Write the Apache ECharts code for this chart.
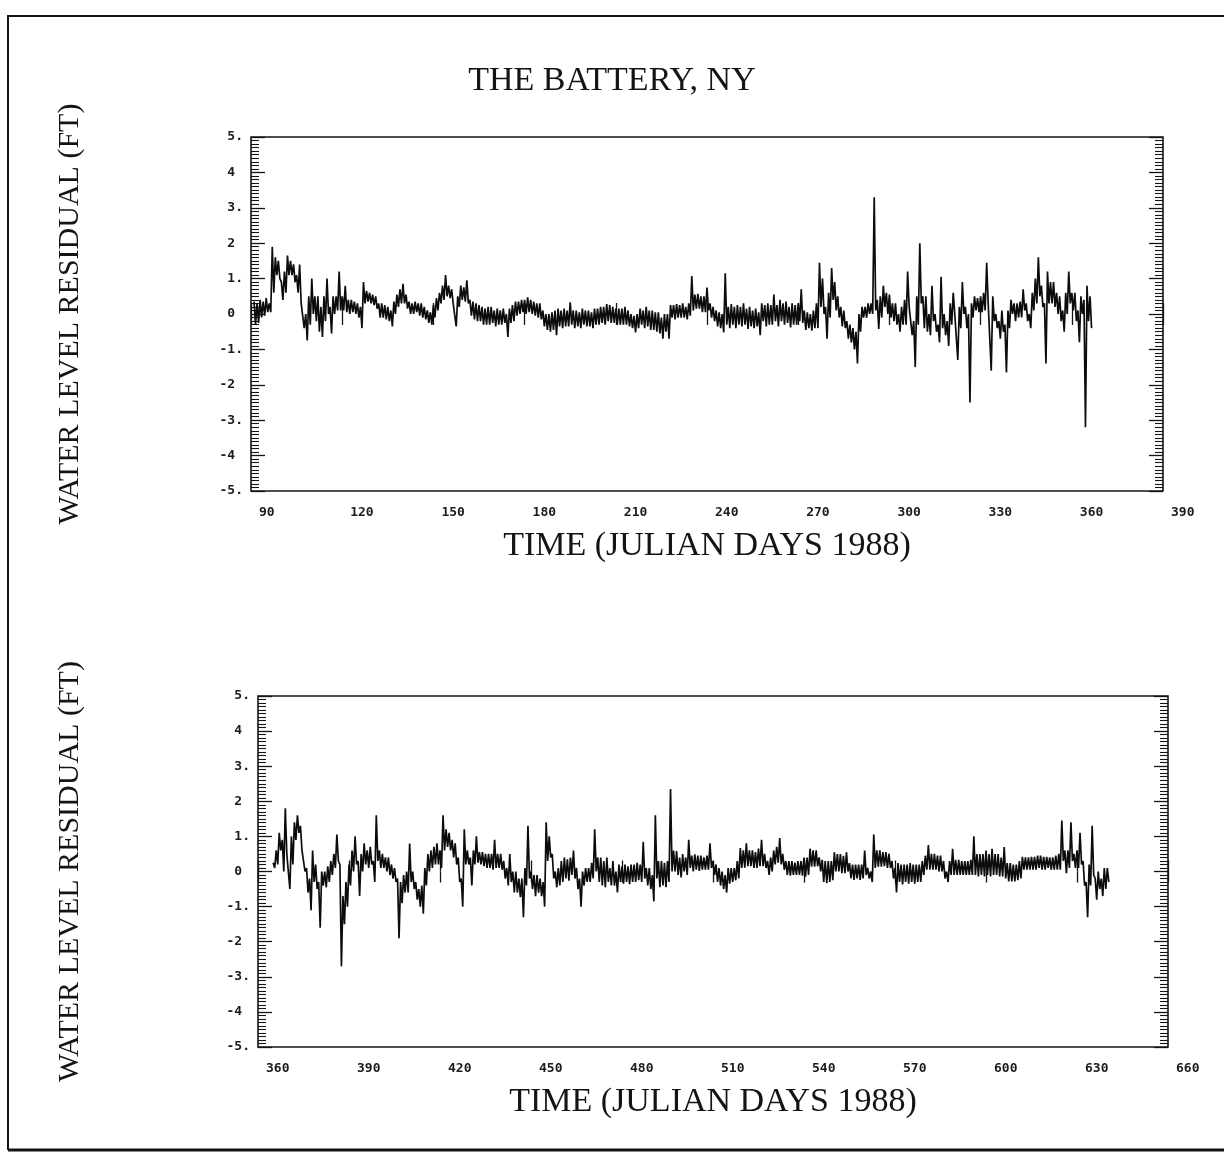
<!DOCTYPE html>
<html>
<head>
<meta charset="utf-8">
<script src="https://cdn.jsdelivr.net/npm/echarts@6.0.0/dist/echarts.min.js"></script>
<style>
html,body{margin:0;padding:0;background:#ffffff;}
#chart{width:1224px;height:1169px;}
</style>
</head>
<body>
<div id="chart"></div>
<script>
// ---------- text ----------
const chartTitle = 'THE BATTERY, NY';
const yTitle = 'WATER LEVEL RESIDUAL (FT)';
const xTitle = 'TIME (JULIAN DAYS 1988)';

// ---------- axis ranges / ticks ----------
const topDayRange = [90, 390];
const bottomDayRange = [360, 660];
const dayTickStep = 30;
const levelRange = [-5, 5];
const levelTickStep = 1;

// ---------- data: daily high / low of the residual trace (ft) ----------
// upper panel, one entry per Julian day starting at day 91
const topFirstDay = 91;
const topHigh = [
  0.35, 0.3, 0.4, 0.35, 0.45, 0.3, 1.9, 1.6, 1.5, 0.9,
  1.2, 1.65, 1.5, 1.4, 1.1, 1.4, 0.3, 0.0, 0.5, 1.0,
  0.5, 0.5, 0.2, 0.5, 1.0, 0.2, 0.5, 0.5, 1.2, 0.5,
  0.8, 0.4, 0.4, 0.35, 0.3, 0.2, 0.9, 0.65, 0.6, 0.55,
  0.5, 0.3, 0.3, 0.25, 0.2, 0.1, 0.35, 0.55, 0.7, 0.85,
  0.55, 0.35, 0.3, 0.35, 0.3, 0.3, 0.2, 0.1, 0.05, 0.25,
  0.45, 0.6, 0.8, 1.1, 0.8, 0.7, 0.3, 0.5, 0.8, 0.75,
  0.95, 0.4, 0.35, 0.3, 0.25, 0.2, 0.15, 0.2, 0.2, 0.1,
  0.15, 0.1, 0.15, 0.0, 0.15, 0.25, 0.35, 0.35, 0.4, 0.4,
  0.47, 0.4, 0.35, 0.3, 0.3, 0.1, 0.0, 0.0, 0.05, 0.1,
  0.15, 0.1, 0.15, 0.1, 0.33, 0.1, 0.1, 0.05, 0.15, 0.1,
  0.1, 0.05, 0.15, 0.15, 0.2, 0.2, 0.28, 0.25, 0.2, 0.15,
  0.15, 0.15, 0.2, 0.1, 0.0, -0.05, 0.0, 0.15, 0.1, 0.2,
  0.1, 0.1, 0.05, 0.05, -0.1, 0.0, 0.0, 0.25, 0.25, 0.28,
  0.25, 0.3, 0.2, 0.3, 1.07, 0.55, 0.57, 0.5, 0.5, 0.75,
  0.3, 0.2, 0.1, 0.05, 0.0, 1.15, 0.2, 0.28, 0.2, 0.25,
  0.2, 0.3, 0.15, 0.2, 0.1, 0.15, 0.05, 0.3, 0.25, 0.3,
  0.25, 0.55, 0.25, 0.4, 0.3, 0.35, 0.2, 0.3, 0.25, 0.3,
  0.7, 0.1, 0.05, 0.0, 0.1, 0.3, 1.45, 1.0, 0.2, 0.6,
  1.3, 0.9, 0.5, 0.2, 0.1, -0.2, -0.3, -0.4, -0.5, 0.0,
  0.2, 0.2, 0.3, 0.3, 3.3, 0.4, 0.5, 0.8, 0.6, 0.55,
  0.3, 0.3, 0.0, 0.2, 0.4, 1.2, 0.2, -0.2, 0.5, 2.0,
  0.5, 0.5, 0.0, 0.8, 0.0, -0.3, 1.05, 0.0, -0.2, 0.3,
  0.6, 0.0, 0.2, 0.9, 0.2, 0.0, 0.3, 0.5, 0.45, 0.5,
  0.6, 1.45, 0.3, 0.5, 0.0, -0.2, 0.1, -0.3, 0.1, 0.4,
  0.3, 0.3, 0.35, 0.7, 0.3, 0.0, 0.6, 1.0, 1.6, 0.8,
  0.3, 1.2, 0.9, 0.9, 0.6, 0.5, 0.1, 0.6, 1.2, 0.6,
  0.6, 0.1, 0.5, 0.4, 0.8, 0.5
];
const topLow = [
  -0.3, -0.25, -0.1, -0.05, 0.05, 0.05, 0.6, 1.1, 1.0, 0.4,
  0.6, 1.1, 1.1, 0.9, 0.6, 0.3, -0.4, -0.75, -0.3, 0.0,
  -0.2, -0.5, -0.65, -0.2, 0.0, -0.55, 0.0, 0.1, 0.1, 0.1,
  0.05, 0.0, 0.05, 0.0, -0.1, -0.4, 0.3, 0.35, 0.3, 0.25,
  0.15, -0.1, -0.1, -0.15, -0.2, -0.35, 0.0, 0.2, 0.3, 0.3,
  0.15, 0.0, 0.0, 0.05, -0.05, -0.1, -0.15, -0.25, -0.3, -0.1,
  0.1, 0.3, 0.4, 0.5, 0.45, 0.3, -0.35, 0.2, 0.4, 0.35,
  0.3, -0.05, -0.15, -0.2, -0.2, -0.3, -0.3, -0.3, -0.25, -0.35,
  -0.3, -0.3, -0.25, -0.65, -0.25, -0.2, -0.05, 0.0, 0.05, 0.0,
  0.05, 0.0, -0.05, -0.1, -0.15, -0.35, -0.45, -0.5, -0.45, -0.6,
  -0.35, -0.4, -0.35, -0.35, -0.3, -0.4, -0.35, -0.4, -0.3, -0.35,
  -0.35, -0.4, -0.3, -0.3, -0.25, -0.3, -0.2, -0.25, -0.25, -0.3,
  -0.3, -0.3, -0.3, -0.35, -0.4, -0.52, -0.4, -0.3, -0.4, -0.35,
  -0.45, -0.45, -0.5, -0.55, -0.7, -0.5, -0.7, -0.1, -0.15, -0.1,
  -0.1, -0.1, -0.15, -0.05, 0.1, 0.15, 0.15, 0.05, 0.05, 0.1,
  -0.1, -0.2, -0.35, -0.4, -0.52, -0.3, -0.4, -0.3, -0.4, -0.3,
  -0.35, -0.3, -0.42, -0.35, -0.4, -0.35, -0.6, -0.2, -0.35, -0.3,
  -0.3, -0.2, -0.35, -0.2, -0.3, -0.25, -0.38, -0.3, -0.3, -0.2,
  -0.25, -0.45, -0.4, -0.47, -0.4, -0.4, 0.2, 0.0, -0.7, -0.1,
  0.4, 0.1, -0.1, -0.35, -0.4, -0.7, -0.8, -1.0, -1.4, -0.5,
  -0.1, -0.1, 0.0, 0.0, 0.1, -0.42, -0.1, 0.2, 0.0, -0.1,
  -0.2, -0.3, -0.5, -0.3, -0.3, 0.2, -0.6, -1.5, -0.3, 0.3,
  -0.4, -0.5, -0.6, -0.2, -0.5, -0.8, -0.4, -0.6, -0.9, -0.3,
  0.0, -1.3, -0.4, 0.0, -0.4, -2.5, -0.1, 0.1, 0.05, 0.05,
  0.1, 0.3, -1.6, -0.2, -0.4, -0.7, -0.5, -1.65, -0.4, 0.0,
  -0.2, -0.1, -0.1, 0.1, -0.2, -0.4, 0.1, 0.3, 0.5, 0.2,
  -1.4, 0.3, 0.3, 0.2, 0.0, -0.2, -0.5, 0.0, 0.3, 0.1,
  -0.2, -0.8, 0.0, -3.2, -0.2, -0.4
];

// lower panel, one entry per Julian day starting at day 365
const bottomFirstDay = 365;
const bottomHigh = [
  0.25, 0.6, 1.1, 0.9, 1.8, 0.5, 1.0, 1.4, 1.6, 1.3,
  0.6, 0.1, -0.2, 0.6, 0.2, -0.3, 0.0, 0.0, 0.15, 0.3,
  0.5, 1.05, 0.2, -0.7, -0.3, 0.2, 0.6, 1.0, 0.3, 0.5,
  0.8, 0.6, 0.7, 0.3, 1.6, 0.6, 0.5, 0.4, 0.4, 0.2,
  0.1, -0.2, -0.3, -0.1, 0.0, 0.8, 0.0, -0.3, -0.5, -0.4,
  0.1, 0.5, 0.6, 0.7, 0.8, 0.6, 1.6, 1.2, 1.1, 0.9,
  0.8, 0.4, -0.2, 1.2, 0.6, 0.4, 0.6, 1.0, 0.55, 0.55,
  0.5, 0.5, 0.5, 0.9, 0.5, 0.5, 0.3, 0.1, 0.5, 0.0,
  0.0, -0.2, -0.2, 0.1, 1.3, 0.0, -0.1, -0.1, -0.2, -0.3,
  1.4, 1.0, 0.5, 0.0, 0.1, 0.3, 0.4, 0.35, 0.4, 0.6,
  0.1, -0.2, 0.0, 0.1, 0.1, 0.25, 1.2, 0.4, 0.4, 0.3,
  0.4, 0.1, 0.3, 0.0, 0.2, 0.15, 0.2, 0.15, 0.2, 0.2,
  0.25, 0.2, 0.85, 0.1, 0.1, -0.1, 1.6, 0.3, 0.3, 0.25,
  0.3, 2.35, 0.6, 0.58, 0.4, 0.5, 0.4, 0.9, 0.45, 0.49,
  0.45, 0.45, 0.4, 0.45, 0.8, 0.3, 0.2, 0.1, 0.0, -0.1,
  0.1, 0.1, 0.1, 0.3, 0.67, 0.6, 0.8, 0.6, 0.6, 0.55,
  0.65, 0.9, 0.5, 0.3, 0.4, 0.6, 0.7, 0.95, 0.5, 0.3,
  0.3, 0.3, 0.25, 0.3, 0.3, 0.4, 0.4, 0.65, 0.6, 0.6,
  0.4, 0.33, 0.3, 0.3, 0.3, 0.55, 0.5, 0.5, 0.45, 0.55,
  0.24, 0.2, 0.2, 0.2, 0.2, 0.6, 0.1, 0.0, 1.05, 0.6,
  0.6, 0.55, 0.55, 0.5, 0.3, 0.1, 0.24, 0.2, 0.2, 0.2,
  0.24, 0.2, 0.2, 0.2, 0.3, 0.45, 0.75, 0.5, 0.5, 0.45,
  0.45, 0.3, 0.0, 0.3, 0.65, 0.33, 0.33, 0.3, 0.3, 0.3,
  0.33, 1.0, 0.5, 0.5, 0.5, 0.6, 0.5, 0.65, 0.5, 0.5,
  0.4, 0.7, 0.24, 0.24, 0.2, 0.2, 0.3, 0.42, 0.4, 0.4,
  0.42, 0.42, 0.45, 0.45, 0.42, 0.42, 0.4, 0.4, 0.45, 0.5,
  1.45, 0.6, 0.6, 1.4, 0.5, 0.6, 1.1, 0.3, -0.3, 0.2,
  1.3, -0.2, 0.0, -0.2, 0.1, 0.1
];
const bottomLow = [
  0.1, 0.2, 0.6, 0.0, 0.5, -0.5, 0.2, 0.9, 1.1, 0.6,
  0.0, -0.6, -1.1, -0.3, -0.5, -1.6, -0.4, -0.45, -0.3, -0.1,
  0.1, 0.3, -2.7, -1.5, -1.0, -0.4, 0.0, 0.2, -0.7, 0.0,
  0.2, 0.1, 0.2, -0.3, 0.3, 0.1, 0.1, 0.0, -0.1, -0.2,
  -0.3, -1.9, -0.9, -0.6, -0.6, -0.3, -0.5, -0.8, -1.0, -1.2,
  -0.4, 0.0, 0.1, 0.2, 0.2, 0.1, 0.6, 0.7, 0.6, 0.4,
  0.2, -0.3, -1.0, 0.2, 0.2, -0.4, 0.2, 0.25, 0.2, 0.15,
  0.1, 0.1, 0.05, 0.1, 0.1, 0.05, -0.2, -0.4, -0.3, -0.6,
  -0.6, -0.73, -1.3, -0.4, -0.2, -0.5, -0.7, -0.6, -0.7, -1.0,
  0.3, 0.4, -0.2, -0.45, -0.4, -0.3, -0.2, -0.26, -0.1, -0.2,
  -0.5, -1.0, -0.4, -0.3, -0.3, -0.2, 0.0, -0.3, -0.4, -0.45,
  -0.3, -0.4, -0.4, -0.6, -0.3, -0.35, -0.3, -0.36, -0.3, -0.3,
  -0.25, -0.3, -0.2, -0.4, -0.5, -0.85, -0.2, -0.45, -0.4, -0.45,
  -0.3, 0.0, 0.0, -0.1, -0.17, 0.0, -0.1, 0.1, 0.0, 0.05,
  0.02, 0.05, 0.05, 0.05, 0.1, -0.1, -0.3, -0.4, -0.5, -0.6,
  -0.35, -0.3, -0.25, -0.2, 0.1, 0.11, 0.15, 0.15, 0.1, 0.1,
  0.15, 0.15, 0.1, -0.1, 0.0, 0.2, 0.25, 0.2, 0.05, -0.1,
  -0.12, -0.1, -0.1, -0.1, -0.12, -0.15, -0.1, 0.14, 0.14, 0.15,
  0.0, -0.3, -0.33, -0.3, -0.25, 0.0, 0.0, -0.05, -0.05, 0.0,
  -0.2, -0.24, -0.2, -0.24, -0.2, -0.1, -0.2, -0.3, 0.1, 0.14,
  0.14, 0.15, 0.1, 0.1, -0.2, -0.6, -0.3, -0.37, -0.3, -0.35,
  -0.3, -0.35, -0.3, -0.3, -0.1, 0.05, 0.05, 0.05, 0.05, 0.0,
  0.0, -0.2, -0.3, -0.1, -0.1, -0.1, -0.1, -0.1, -0.1, -0.1,
  -0.1, -0.1, -0.14, -0.1, -0.14, -0.1, -0.14, -0.1, -0.1, -0.14,
  -0.14, -0.2, -0.28, -0.28, -0.28, -0.25, -0.2, 0.05, 0.05, 0.05,
  0.05, 0.05, 0.1, 0.05, 0.05, 0.1, 0.05, 0.05, 0.05, 0.05,
  0.3, -0.05, 0.1, 0.3, 0.1, 0.1, 0.2, -0.4, -1.3, -0.4,
  -0.1, -0.8, -0.5, -0.7, -0.5, -0.3
];

// ---------- build chart ----------
// trace visits each day's high, then that day's low half a day later
function traceFromRange(firstDay, highs, lows) {
  const pts = [];
  for (let i = 0; i < highs.length; i++) {
    pts.push([firstDay + i, highs[i]]);
    pts.push([firstDay + i + 0.5, lows[i]]);
  }
  return pts;
}

const INK = '#141414';
const tickFont = { fontFamily: 'DejaVu Sans Mono', fontSize: 13, fontWeight: 'bold', color: '#1c1c1c' };
const serif = 'Liberation Serif';

const grids = [
  { left: 251, top: 137, width: 912, height: 354 },
  { left: 258, top: 696, width: 910, height: 351 }
];

function xAxes(gridIndex, range) {
  const common = {
    type: 'value', gridIndex: gridIndex, min: range[0], max: range[1], interval: dayTickStep,
    axisLine: { show: false },
    axisTick: { show: true, inside: true, length: 11, lineStyle: { color: INK, width: 1.3 } },
    splitLine: { show: false }
  };
  return [
    Object.assign({}, common, {
      position: 'bottom',
      axisLabel: Object.assign({ show: true, margin: 15, align: 'left', padding: [0, 0, 0, 8],
        formatter: function (v) { return String(v); } }, tickFont),
      name: xTitle, nameLocation: 'middle', nameGap: 38,
      nameTextStyle: { fontFamily: serif, fontSize: 34, color: INK }
    }),
    Object.assign({}, common, { position: 'top', axisLabel: { show: false } })
  ];
}

function yAxes(gridIndex, titleGap) {
  const common = {
    type: 'value', gridIndex: gridIndex, min: levelRange[0], max: levelRange[1], interval: levelTickStep,
    axisLine: { show: false },
    axisTick: { show: true, inside: true, length: 14, lineStyle: { color: INK, width: 1.3 } },
    minorTick: { show: true, splitNumber: 10, length: 8, lineStyle: { color: INK, width: 1.1 } },
    splitLine: { show: false }, minorSplitLine: { show: false }
  };
  return [
    Object.assign({}, common, {
      position: 'left',
      axisLabel: Object.assign({
        show: true, margin: 8, align: 'right',
        formatter: function (v) { return Math.abs(v) % 2 === 1 ? v + '.' : '{e|' + v + '}'; },
        rich: { e: Object.assign({ padding: [0, 7.8, 0, 0] }, tickFont) }
      }, tickFont),
      name: yTitle, nameLocation: 'middle', nameRotate: 90, nameGap: titleGap,
      nameTextStyle: { fontFamily: serif, fontSize: 30, color: INK }
    }),
    Object.assign({}, common, { position: 'right', axisLabel: { show: false } })
  ];
}

const option = {
  animation: false,
  backgroundColor: '#ffffff',
  title: {
    text: chartTitle, left: 'center', top: 59,
    textStyle: { fontFamily: serif, fontSize: 34, fontWeight: 'normal', color: INK }
  },
  grid: grids.map(function (g) {
    return Object.assign({ show: true, borderColor: INK, borderWidth: 1.6, backgroundColor: 'transparent',
      containLabel: false, outerBoundsMode: 'none' }, g);
  }),
  xAxis: xAxes(0, topDayRange).concat(xAxes(1, bottomDayRange)),
  yAxis: yAxes(0, 166).concat(yAxes(1, 173)),
  series: [
    { type: 'line', xAxisIndex: 0, yAxisIndex: 0, data: traceFromRange(topFirstDay, topHigh, topLow),
      showSymbol: false, symbol: 'none', sampling: null,
      lineStyle: { color: '#0c0c0c', width: 1.7 } },
    { type: 'line', xAxisIndex: 2, yAxisIndex: 2, data: traceFromRange(bottomFirstDay, bottomHigh, bottomLow),
      showSymbol: false, symbol: 'none', sampling: null,
      lineStyle: { color: '#0c0c0c', width: 1.7 } }
  ],
  graphic: [
    { type: 'polyline', silent: true, z: -1,
      shape: { points: [[1224, 16], [8, 16], [8, 1150]] },
      style: { fill: 'none', stroke: INK, lineWidth: 2 } },
    { type: 'line', silent: true, z: -1,
      shape: { x1: 8, y1: 1150, x2: 1224, y2: 1150 },
      style: { stroke: INK, lineWidth: 3 } }
  ]
};

const chart = echarts.init(document.getElementById('chart'), null, { renderer: 'canvas' });
chart.setOption(option);
</script>
</body>
</html>
